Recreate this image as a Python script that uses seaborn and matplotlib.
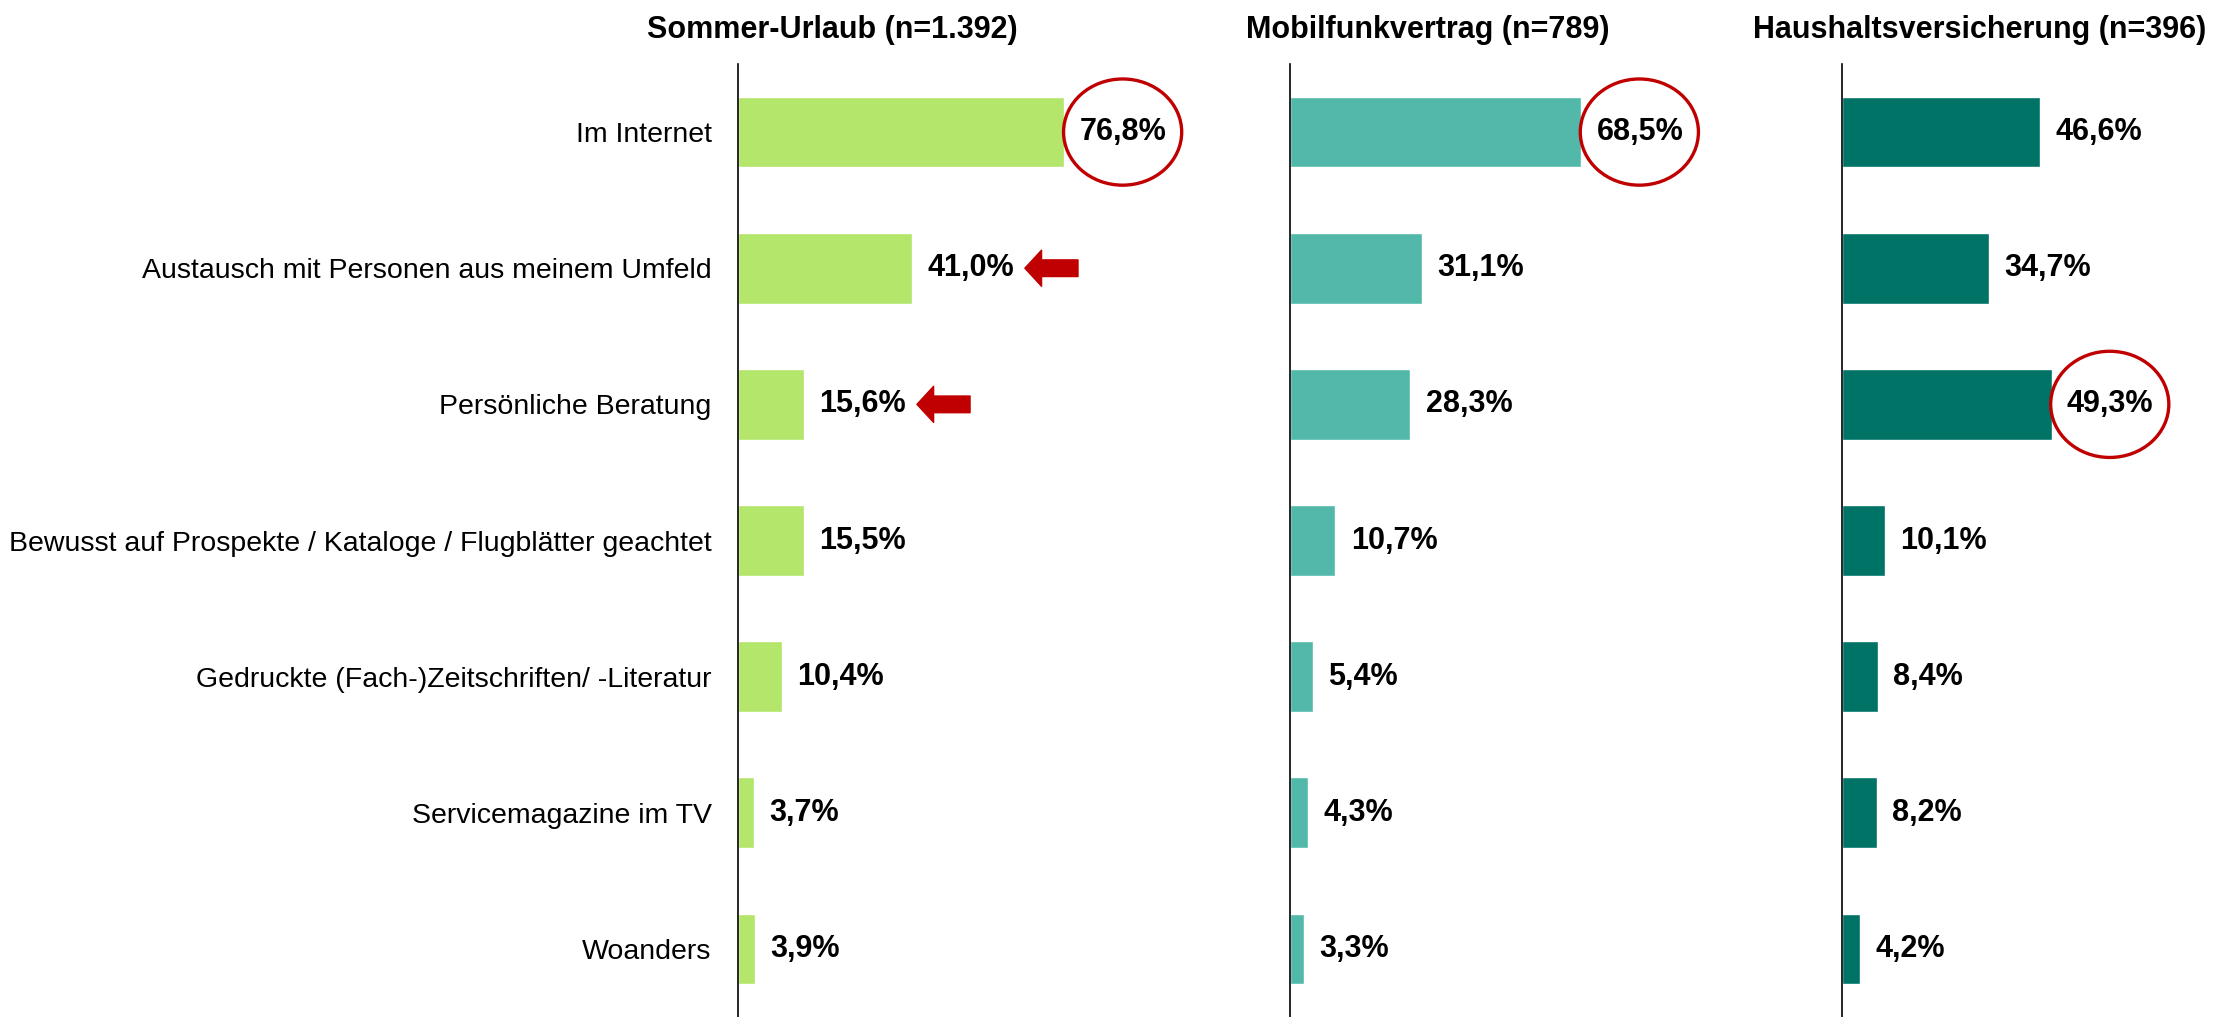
import pandas as pd
import matplotlib.pyplot as plt
import seaborn as sns
from matplotlib.patches import Ellipse

# Data
categories = ['Im Internet',
              'Austausch mit Personen aus meinem Umfeld',
              'Persönliche Beratung',
              'Bewusst auf Prospekte / Kataloge / Flugblätter geachtet',
              'Gedruckte (Fach-)Zeitschriften/ -Literatur',
              'Servicemagazine im TV',
              'Woanders']
titles = ['Sommer-Urlaub (n=1.392)', 'Mobilfunkvertrag (n=789)', 'Haushaltsversicherung (n=396)']
urlaub = [76.8, 41.0, 15.6, 15.5, 10.4, 3.7, 3.9]
mobilfunk = [68.5, 31.1, 28.3, 10.7, 5.4, 4.3, 3.3]
versicherung = [46.6, 34.7, 49.3, 10.1, 8.4, 8.2, 4.2]
series = [urlaub, mobilfunk, versicherung]
colors = ['#b3e66b', '#52b9aa', '#007367']
circled = [0, 0, 2]          # row with red circle per panel
arrow_rows = [[1, 2], [], []]  # rows with red arrow per panel

sns.set_style('white')
plt.rcParams['font.family'] = ['Liberation Sans', 'DejaVu Sans']
plt.rcParams['text.color'] = 'black'
plt.rcParams['ytick.color'] = 'black'
plt.rcParams['ytick.labelcolor'] = 'black'

W, H = 2225, 1017
fig = plt.figure(figsize=(W / 100, H / 100), dpi=100)

px_per_pct = 4.25
ax_left = [738, 1290, 1842]
ax_width = [500, 500, 383]
title_x = [832, 1428, 1980]
top_px = 64

for i, vals in enumerate(series):
    ax = fig.add_axes([ax_left[i] / W, 0, ax_width[i] / W, (H - top_px) / H])
    df = pd.DataFrame({'Kategorie': categories, 'Wert': vals})
    sns.barplot(data=df, x='Wert', y='Kategorie', orient='h', color=colors[i],
                saturation=1, width=0.52, ax=ax)
    ax.set_xlim(0, ax_width[i] / px_per_pct)
    ax.set_ylim(6.5, -0.5)
    ax.set_xlabel('')
    ax.set_ylabel('')
    ax.set_xticks([])
    for s in ['top', 'right', 'bottom']:
        ax.spines[s].set_visible(False)
    ax.spines['left'].set_color('black')
    ax.spines['left'].set_linewidth(1.2)
    if i == 0:
        ax.tick_params(axis='y', length=0, pad=19, labelsize=20.5, labelcolor='black')
    else:
        ax.set_yticks([])

    for j, v in enumerate(vals):
        ax.annotate(f'{v:.1f}'.replace('.', ',') + '%', xy=(v, j), xytext=(11, 0),
                    textcoords='offset points', ha='left', va='center',
                    fontsize=22, fontweight='bold', color='black')

    # red circle around highlighted value
    c = circled[i]
    ax.add_patch(Ellipse((vals[c] + 13.7, c), width=27.8, height=0.78,
                         fill=False, edgecolor='#c00000', linewidth=2.4,
                         clip_on=False))

    # red arrows pointing at values
    for r in arrow_rows[i]:
        tip = vals[r] + 26.5
        ax.annotate('', xy=(tip, r), xytext=(tip + 12.5, r),
                    arrowprops=dict(arrowstyle='simple,head_length=1.2,head_width=2.6,tail_width=1.2',
                                    mutation_scale=10, color='#c00000',
                                    shrinkA=0, shrinkB=0))

    fig.text(title_x[i] / W, 1 - 30 / H, titles[i], ha='center', va='center',
             fontsize=22, fontweight='bold', color='black')

fig.savefig('out.png', dpi=100)
